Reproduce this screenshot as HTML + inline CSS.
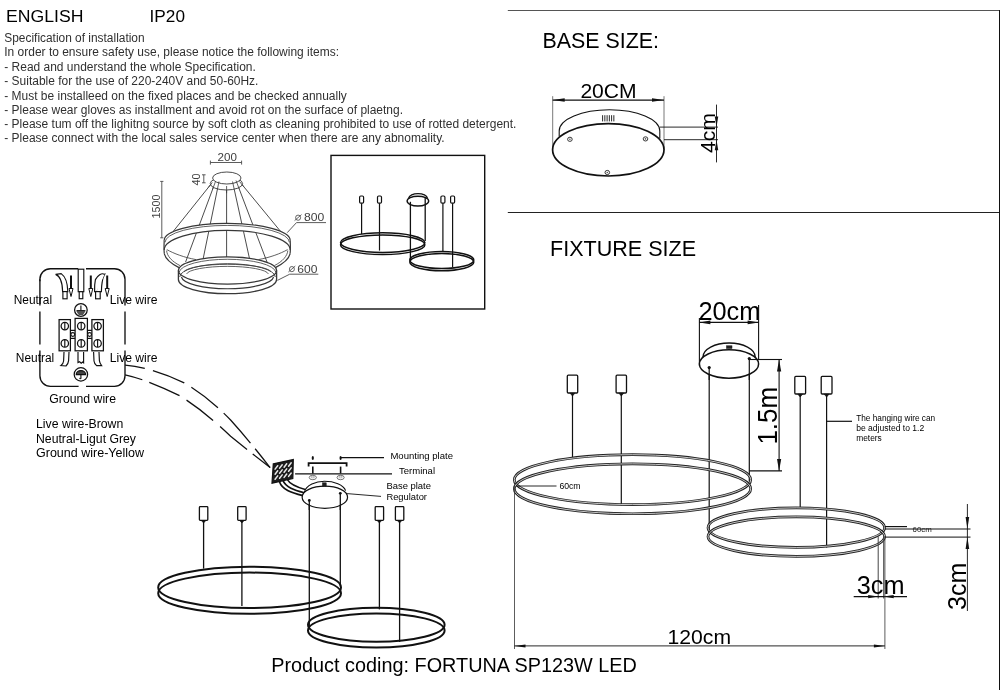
<!DOCTYPE html>
<html><head><meta charset="utf-8"><title>FORTUNA SP123W LED</title>
<style>
html,body{margin:0;padding:0;background:#fff;}
body{width:1000px;height:690px;overflow:hidden;font-family:"Liberation Sans",sans-serif;}
svg{display:block;font-family:"Liberation Sans",sans-serif;filter:grayscale(1);}
</style></head><body>
<svg width="1000" height="690" viewBox="0 0 1000 690">
<rect x="0" y="0" width="1000" height="690" fill="#fff"/>
<!-- borders -->
<line x1="507.8" y1="10.5" x2="1000" y2="10.5" stroke="#555" stroke-width="1.0" />
<line x1="507.8" y1="212.5" x2="1000" y2="212.5" stroke="#222" stroke-width="1.2" />
<line x1="999.5" y1="10" x2="999.5" y2="690" stroke="#111" stroke-width="1.0" />
<!-- header text -->
<text x="6" y="21.7" font-size="16.8" fill="#000" textLength="77.4" lengthAdjust="spacingAndGlyphs" >ENGLISH</text>
<text x="149.6" y="21.7" font-size="16.8" fill="#000" textLength="35.4" lengthAdjust="spacingAndGlyphs" >IP20</text>
<text x="4.3" y="42.099999999999994" font-size="12" fill="#303030" textLength="140.3" lengthAdjust="spacingAndGlyphs" >Specification of installation</text>
<text x="4.3" y="56.099999999999994" font-size="12" fill="#303030" textLength="334.7" lengthAdjust="spacingAndGlyphs" >In order to ensure safety use, please notice the following items:</text>
<text x="4.3" y="70.6" font-size="12" fill="#303030" textLength="251.5" lengthAdjust="spacingAndGlyphs" >- Read and understand the whole Specification.</text>
<text x="4.3" y="85.1" font-size="12" fill="#303030" textLength="254.1" lengthAdjust="spacingAndGlyphs" >- Suitable for the use of 220-240V and 50-60Hz.</text>
<text x="4.3" y="99.5" font-size="12" fill="#303030" textLength="342.5" lengthAdjust="spacingAndGlyphs" >- Must be installeed on the fixed places and be checked annually</text>
<text x="4.3" y="113.7" font-size="12" fill="#303030" textLength="398.7" lengthAdjust="spacingAndGlyphs" >- Please wear gloves as installment and avoid rot on the surface of plaetng.</text>
<text x="4.3" y="127.6" font-size="12" fill="#303030" textLength="512.1" lengthAdjust="spacingAndGlyphs" >- Please tum off the lighitng source by soft cloth as cleaning prohibited to use of rotted detergent.</text>
<text x="4.3" y="142.10000000000002" font-size="12" fill="#303030" textLength="440.3" lengthAdjust="spacingAndGlyphs" >- Please connect with the local sales service center when there are any abnomality.</text>
<text x="542.5" y="47.9" font-size="21.5" fill="#000" textLength="116.5" lengthAdjust="spacingAndGlyphs" >BASE SIZE:</text>
<text x="550" y="255.9" font-size="21.5" fill="#000" textLength="146" lengthAdjust="spacingAndGlyphs" >FIXTURE SIZE</text>
<text x="271.2" y="672.3" font-size="20" fill="#000" textLength="365.6" lengthAdjust="spacingAndGlyphs" >Product coding: FORTUNA SP123W LED</text>
<!-- pendant sketch -->
<text x="217.6" y="160.5" font-size="10.5" fill="#404040" textLength="19.4" lengthAdjust="spacingAndGlyphs" >200</text>
<line x1="210.4" y1="162.5" x2="241.6" y2="162.5" stroke="#4a4a4a" stroke-width="0.9" />
<line x1="210.4" y1="160.6" x2="210.4" y2="164.6" stroke="#4a4a4a" stroke-width="0.9" />
<line x1="241.6" y1="160.6" x2="241.6" y2="164.6" stroke="#4a4a4a" stroke-width="0.9" />
<text transform="translate(200 185.6) rotate(-90)" font-size="11" fill="#404040" textLength="12.1" lengthAdjust="spacingAndGlyphs">40</text>
<line x1="203.8" y1="174.8" x2="203.8" y2="182.8" stroke="#4a4a4a" stroke-width="0.9" />
<line x1="202" y1="174.8" x2="205.6" y2="174.8" stroke="#4a4a4a" stroke-width="0.9" />
<line x1="202" y1="182.8" x2="205.6" y2="182.8" stroke="#4a4a4a" stroke-width="0.9" />
<text transform="translate(160.2 218.4) rotate(-90)" font-size="11" fill="#404040" textLength="23.8" lengthAdjust="spacingAndGlyphs">1500</text>
<line x1="161.8" y1="181.4" x2="161.8" y2="237.8" stroke="#4a4a4a" stroke-width="0.9" />
<line x1="160.2" y1="181.4" x2="163.4" y2="181.4" stroke="#4a4a4a" stroke-width="0.9" />
<line x1="160.2" y1="237.8" x2="163.4" y2="237.8" stroke="#4a4a4a" stroke-width="0.9" />
<line x1="212.3" y1="182.5" x2="173.4" y2="231.2" stroke="#383838" stroke-width="0.9" />
<line x1="215.5" y1="181.5" x2="185.6" y2="262" stroke="#383838" stroke-width="0.9" />
<line x1="219" y1="181.5" x2="203" y2="259.5" stroke="#383838" stroke-width="0.9" />
<line x1="226.6" y1="186" x2="226.6" y2="258" stroke="#383838" stroke-width="0.9" />
<line x1="232.5" y1="181.5" x2="249.7" y2="259.5" stroke="#383838" stroke-width="0.9" />
<line x1="236" y1="180.5" x2="267" y2="262" stroke="#383838" stroke-width="0.9" />
<line x1="239.5" y1="181.5" x2="280.4" y2="231.2" stroke="#383838" stroke-width="0.9" />
<ellipse cx="226.4" cy="183.6" rx="16.2" ry="6.4" stroke="#383838" stroke-width="0.9" fill="#fff" />
<ellipse cx="226.8" cy="178" rx="14.2" ry="6" stroke="#383838" stroke-width="0.9" fill="#fff" />
<line x1="212.3" y1="182.5" x2="208.41000000000003" y2="187.37" stroke="#383838" stroke-width="0.8" />
<line x1="215.5" y1="181.5" x2="212.51" y2="189.55" stroke="#383838" stroke-width="0.8" />
<line x1="219" y1="181.5" x2="217.4" y2="189.3" stroke="#383838" stroke-width="0.8" />
<line x1="226.6" y1="186" x2="226.6" y2="193.2" stroke="#383838" stroke-width="0.8" />
<line x1="232.5" y1="181.5" x2="234.22" y2="189.3" stroke="#383838" stroke-width="0.8" />
<line x1="236" y1="180.5" x2="239.1" y2="188.65" stroke="#383838" stroke-width="0.8" />
<line x1="239.5" y1="181.5" x2="243.59" y2="186.47" stroke="#383838" stroke-width="0.8" />
<path d="M164.2,240.4 A63,17 0 0 1 290.2,240.4 L290.2,250 A63,19.6 0 0 0 164.2,250 Z" fill="#fff" stroke="none"/>
<path d="M164.2,240.4 A63,17 0 0 1 290.2,240.4" stroke="#383838" stroke-width="1.2" fill="none" />
<path d="M165,242.4 A62.2,17 0 0 1 289.4,242.4" stroke="#383838" stroke-width="0.8" fill="none" />
<path d="M164.2,250 A63,19.6 0 0 1 290.2,250" stroke="#383838" stroke-width="1.1" fill="none" />
<path d="M164.2,240.4 C164.0,245.0 163.8,250.0 164.3,253.4" stroke="#383838" stroke-width="1.2" fill="none" />
<path d="M164.3,253.4 C165.0,258.0 170.0,263.0 179.0,267.6" stroke="#383838" stroke-width="1.2" fill="none" />
<path d="M166.6,250.6 C167.0,256.0 172.0,261.6 180.0,265.6" stroke="#383838" stroke-width="0.8" fill="none" />
<path d="M166.8,249.6 C174.0,253.6 184.0,257.4 196.0,259.6" stroke="#383838" stroke-width="0.8" fill="none" />
<path d="M290.2,240.4 C290.4,245.0 290.6,250.0 290.1,253.4" stroke="#383838" stroke-width="1.2" fill="none" />
<path d="M290.1,253.4 C289.4,258.0 284.4,263.0 275.4,267.6" stroke="#383838" stroke-width="1.2" fill="none" />
<path d="M287.8,250.6 C287.4,256.0 282.4,261.6 274.4,265.6" stroke="#383838" stroke-width="0.8" fill="none" />
<path d="M287.6,249.6 C280.4,253.6 270.4,257.4 258.4,259.6" stroke="#383838" stroke-width="0.8" fill="none" />
<path d="M178.4,270.5 A49.1,13.6 0 0 1 276.6,270.5 L276.6,279.5 A49.1,14.2 0 0 1 178.4,279.5 Z" fill="#fff" stroke="none"/>
<path d="M184,271.6 A44,8.6 0 0 1 271,271.6" stroke="#383838" stroke-width="0.8" fill="none" />
<path d="M186.6,274 A41,8.2 0 0 1 268.4,274" stroke="#383838" stroke-width="0.8" fill="none" />
<path d="M178.4,270.5 L178.4,279.5 A49.1,14.2 0 0 0 276.6,279.5 L276.6,270.5" stroke="#383838" stroke-width="1.3" fill="none" />
<ellipse cx="227.5" cy="270.5" rx="49.1" ry="13.6" stroke="#383838" stroke-width="1.2" fill="none" />
<path d="M179.2,272 A48.4,13.6 0 0 1 275.8,272" stroke="#383838" stroke-width="0.8" fill="none" />
<path d="M179.7,277 A47.8,13.3 0 0 1 275.3,277" stroke="#383838" stroke-width="0.9" fill="none" />
<path d="M181.4,277 A46.2,12.6 0 0 0 273.6,277" stroke="#383838" stroke-width="1.1" fill="none" />
<ellipse cx="298.1" cy="217.7" rx="2.5" ry="2.6" stroke="#404040" stroke-width="0.8" fill="none" />
<line x1="294.6" y1="220.6" x2="301.5" y2="214.6" stroke="#404040" stroke-width="0.8" />
<text x="303.9" y="221" font-size="10.8" fill="#404040" textLength="20.3" lengthAdjust="spacingAndGlyphs" >800</text>
<line x1="296.5" y1="222.6" x2="326" y2="222.6" stroke="#4a4a4a" stroke-width="0.9" />
<line x1="296.5" y1="222.6" x2="287.2" y2="232.7" stroke="#4a4a4a" stroke-width="0.9" />
<ellipse cx="291.9" cy="269.1" rx="2.5" ry="2.6" stroke="#404040" stroke-width="0.8" fill="none" />
<line x1="288.4" y1="272.0" x2="295.29999999999995" y2="266.0" stroke="#404040" stroke-width="0.8" />
<text x="297.3" y="272.8" font-size="10.8" fill="#404040" textLength="20.1" lengthAdjust="spacingAndGlyphs" >600</text>
<line x1="289.7" y1="274.2" x2="318.3" y2="274.2" stroke="#4a4a4a" stroke-width="0.9" />
<line x1="289.7" y1="274.2" x2="277.4" y2="280.4" stroke="#4a4a4a" stroke-width="0.9" />
<!-- boxed view -->
<rect x="331" y="155.4" width="153.7" height="153.6" stroke="#111" stroke-width="1.4" fill="none" />
<line x1="410.4" y1="201.8" x2="410.4" y2="260" stroke="#111" stroke-width="1.3" />
<line x1="425.2" y1="197.6" x2="425.2" y2="241" stroke="#111" stroke-width="1.3" />
<line x1="361.6" y1="203" x2="361.6" y2="234" stroke="#111" stroke-width="1.2" />
<rect x="359.6" y="196" width="4.0" height="7.2" stroke="#111" stroke-width="1.2" fill="#fff" rx="1.2"/>
<line x1="379.5" y1="203" x2="379.5" y2="250.6" stroke="#111" stroke-width="1.2" />
<rect x="377.5" y="196" width="4.0" height="7.2" stroke="#111" stroke-width="1.2" fill="#fff" rx="1.2"/>
<line x1="442.9" y1="203" x2="442.9" y2="251.8" stroke="#111" stroke-width="1.2" />
<rect x="440.9" y="196" width="4.0" height="7.2" stroke="#111" stroke-width="1.2" fill="#fff" rx="1.2"/>
<line x1="452.6" y1="203" x2="452.6" y2="267.2" stroke="#111" stroke-width="1.2" />
<rect x="450.6" y="196" width="4.0" height="7.2" stroke="#111" stroke-width="1.2" fill="#fff" rx="1.2"/>
<path d="M408.6,198.4 A9.5,5.4 0 0 1 427.5,198.4" stroke="#111" stroke-width="1.3" fill="none" />
<ellipse cx="417.9" cy="201.1" rx="10.8" ry="4.9" stroke="#111" stroke-width="1.4" fill="none" />
<ellipse cx="382.7" cy="242.6" rx="42.2" ry="9.8" stroke="#111" stroke-width="1.5" fill="none" />
<ellipse cx="382.7" cy="244.7" rx="42.2" ry="9.8" stroke="#111" stroke-width="1.5" fill="none" />
<ellipse cx="441.8" cy="260" rx="32" ry="8.6" stroke="#111" stroke-width="1.5" fill="none" />
<ellipse cx="441.8" cy="262.1" rx="32" ry="8.6" stroke="#111" stroke-width="1.5" fill="none" />
<!-- wiring box -->
<path d="M39.9,281.2 L39.9,279.2 A10.5,10.5 0 0 1 50.4,268.7 L78.2,268.7" stroke="#111" stroke-width="1.35" fill="none" />
<path d="M86,268.7 L114.5,268.7 A10.5,10.5 0 0 1 125,279.2 L125,305.4" stroke="#111" stroke-width="1.35" fill="none" />
<path d="M39.9,279.2 L39.9,305.4" stroke="#111" stroke-width="1.35" fill="none" />
<path d="M39.9,311.5 L39.9,344.5" stroke="#111" stroke-width="1.35" fill="none" />
<path d="M125,311.5 L125,344.5" stroke="#111" stroke-width="1.35" fill="none" />
<path d="M39.9,350.6 L39.9,375.8 A10.5,10.5 0 0 0 50.4,386.3 L78.6,386.3" stroke="#111" stroke-width="1.35" fill="none" />
<path d="M125,350.6 L125,375.8 A10.5,10.5 0 0 1 114.5,386.3 L86,386.3" stroke="#111" stroke-width="1.35" fill="none" />
<text x="13.7" y="304.4" font-size="12" fill="#000" textLength="38.4" lengthAdjust="spacingAndGlyphs" >Neutral</text>
<text x="109.7" y="304.4" font-size="12" fill="#000" textLength="47.9" lengthAdjust="spacingAndGlyphs" >Live wire</text>
<text x="15.8" y="362.2" font-size="12" fill="#000" textLength="38.4" lengthAdjust="spacingAndGlyphs" >Neutral</text>
<text x="109.7" y="362.2" font-size="12" fill="#000" textLength="47.9" lengthAdjust="spacingAndGlyphs" >Live wire</text>
<text x="49.3" y="403.3" font-size="12" fill="#000" textLength="66.7" lengthAdjust="spacingAndGlyphs" >Ground wire</text>
<text x="36" y="428.3" font-size="12" fill="#000" textLength="87.3" lengthAdjust="spacingAndGlyphs" >Live wire-Brown</text>
<text x="36" y="443.3" font-size="12" fill="#000" textLength="100" lengthAdjust="spacingAndGlyphs" >Neutral-Ligut Grey</text>
<text x="36" y="457.3" font-size="12" fill="#000" textLength="108" lengthAdjust="spacingAndGlyphs" >Ground wire-Yellow</text>
<rect x="78.2" y="269.2" width="5.6" height="22.5" stroke="#111" stroke-width="1.15" fill="#fff" />
<rect x="79.2" y="291.7" width="3.6" height="7" stroke="#111" stroke-width="1.15" fill="#fff" />
<path d="M55.6,274.4 C60,276 62.4,283 62.6,291.6 L67.8,291.6 C67.6,282 64.6,276 61.2,273.6 Z" stroke="#111" stroke-width="1.15" fill="#fff" />
<rect x="62.9" y="291.6" width="4.2" height="7.2" stroke="#111" stroke-width="1.15" fill="#fff" />
<path d="M104.6,274.4 C100,276 96.6,283 96.4,291.6 L101.4,291.6 C101.6,283 102.6,277.6 104.6,274.4 Z" stroke="#111" stroke-width="1.15" fill="#fff" />
<path d="M104.6,274.4 C101.6,272.4 97.6,275.6 95.4,279.6 C94.6,283.6 94.4,287.6 94.6,291.6 L96.4,291.6" stroke="#111" stroke-width="1.15" fill="#fff" />
<rect x="95.6" y="291.6" width="4.6" height="7.2" stroke="#111" stroke-width="1.15" fill="#fff" />
<line x1="71" y1="275.5" x2="71" y2="289" stroke="#111" stroke-width="2.0" />
<path d="M69.0,288.5 L73.0,288.5 L71,296.5 Z" stroke="#111" stroke-width="1.0" fill="#fff" />
<line x1="90.8" y1="275.5" x2="90.8" y2="289" stroke="#111" stroke-width="2.0" />
<path d="M88.8,288.5 L92.8,288.5 L90.8,296.5 Z" stroke="#111" stroke-width="1.0" fill="#fff" />
<line x1="107.2" y1="275.5" x2="107.2" y2="289" stroke="#111" stroke-width="2.0" />
<path d="M105.2,288.5 L109.2,288.5 L107.2,296.5 Z" stroke="#111" stroke-width="1.0" fill="#fff" />
<ellipse cx="80.9" cy="310" rx="6.3" ry="6.3" stroke="#111" stroke-width="1.25" fill="#fff" />
<line x1="80.9" y1="305.4" x2="80.9" y2="310.6" stroke="#111" stroke-width="1.15" />
<line x1="77" y1="310.6" x2="84.8" y2="310.6" stroke="#111" stroke-width="1.15" />
<line x1="78.2" y1="312.2" x2="83.6" y2="312.2" stroke="#111" stroke-width="1.0" />
<line x1="79.4" y1="313.8" x2="82.4" y2="313.8" stroke="#111" stroke-width="1.0" />
<path d="M76.4,310.6 L85.4,310.6 L83,314.6 L78.8,314.6 Z" stroke="#111" stroke-width="0.5" fill="#555" />
<rect x="59.1" y="319.6" width="11.3" height="31.2" stroke="#111" stroke-width="1.25" fill="#fff" />
<rect x="75.1" y="318.4" width="12.3" height="32.4" stroke="#111" stroke-width="1.25" fill="#fff" />
<rect x="91.9" y="319.6" width="11.5" height="31.2" stroke="#111" stroke-width="1.25" fill="#fff" />
<line x1="70.4" y1="330.4" x2="75.1" y2="330.4" stroke="#111" stroke-width="1.25" />
<line x1="70.4" y1="338.4" x2="75.1" y2="338.4" stroke="#111" stroke-width="1.25" />
<line x1="87.4" y1="330.4" x2="91.9" y2="330.4" stroke="#111" stroke-width="1.25" />
<line x1="87.4" y1="338.4" x2="91.9" y2="338.4" stroke="#111" stroke-width="1.25" />
<ellipse cx="64.8" cy="326.1" rx="3.7" ry="3.7" stroke="#111" stroke-width="1.25" fill="#fff" />
<line x1="64.8" y1="322.40000000000003" x2="64.8" y2="329.8" stroke="#111" stroke-width="1.15" />
<ellipse cx="64.8" cy="343.4" rx="3.7" ry="3.7" stroke="#111" stroke-width="1.25" fill="#fff" />
<line x1="64.8" y1="339.7" x2="64.8" y2="347.09999999999997" stroke="#111" stroke-width="1.15" />
<ellipse cx="81.2" cy="326.1" rx="3.7" ry="3.7" stroke="#111" stroke-width="1.25" fill="#fff" />
<line x1="81.2" y1="322.40000000000003" x2="81.2" y2="329.8" stroke="#111" stroke-width="1.15" />
<ellipse cx="81.2" cy="343.4" rx="3.7" ry="3.7" stroke="#111" stroke-width="1.25" fill="#fff" />
<line x1="81.2" y1="339.7" x2="81.2" y2="347.09999999999997" stroke="#111" stroke-width="1.15" />
<ellipse cx="97.6" cy="326.1" rx="3.7" ry="3.7" stroke="#111" stroke-width="1.25" fill="#fff" />
<line x1="97.6" y1="322.40000000000003" x2="97.6" y2="329.8" stroke="#111" stroke-width="1.15" />
<ellipse cx="97.6" cy="343.4" rx="3.7" ry="3.7" stroke="#111" stroke-width="1.25" fill="#fff" />
<line x1="97.6" y1="339.7" x2="97.6" y2="347.09999999999997" stroke="#111" stroke-width="1.15" />
<ellipse cx="72.8" cy="334.5" rx="1.9" ry="1.9" stroke="#111" stroke-width="1.15" fill="#fff" />
<ellipse cx="89.6" cy="334.5" rx="1.9" ry="1.9" stroke="#111" stroke-width="1.15" fill="#fff" />
<path d="M64,352 L63.6,361 C63.4,363.6 62,364.6 60.8,365.6 L66,366 C67.4,364.6 68.4,362.6 68.6,360.6 L69,352" stroke="#111" stroke-width="1.15" fill="#fff" />
<path d="M78,352 L78,362.6 L79.6,361.8 L81.2,363.2 L82.6,362 L83.6,362.8 L83.6,352" stroke="#111" stroke-width="1.15" fill="#fff" />
<path d="M93.6,352 L94,361 C94.2,363.6 95.4,364.6 96.6,365.6 L101.6,365.6 C100.4,364 99.6,362.4 99.4,360.6 L99,352" stroke="#111" stroke-width="1.15" fill="#fff" />
<ellipse cx="80.9" cy="374.4" rx="6.7" ry="6.7" stroke="#111" stroke-width="1.25" fill="#fff" />
<path d="M76.2,374.6 A4.7,4 0 0 1 85.6,374.6 Z" stroke="#111" stroke-width="1.15" fill="#444" />
<line x1="80.9" y1="374.6" x2="80.9" y2="378.8" stroke="#111" stroke-width="1.15" />
<path d="M80.9,378.8 L79.4,378.4" stroke="#111" stroke-width="1.15" fill="none" />
<path d="M125.1,365.1 C145,367 165,373.5 184.2,382.9 C203,394 217,406 230.6,420 C245,436 258,452 270.1,467.6" stroke="#111" stroke-width="1.25" fill="none" stroke-dasharray="20 8.4 33.7 8.2 33.7 7.9 40.1 7.3 30"/>
<path d="M125.1,374.8 C140,378 160,386 179.6,395.7 C198,407 214,420.5 230.6,436.3 C245,448 258,458 270.1,467.6" stroke="#111" stroke-width="1.25" fill="none" stroke-dasharray="18.1 7.3 33 8.3 33.5 9.3 35.1 7.4 30"/>
<!-- install view -->
<path d="M279.4,481.4 C282,489.5 291,492.6 303,495.6" stroke="#111" stroke-width="1.7" fill="none" />
<path d="M283,480.6 C286,487.4 294,490 304.4,492.8" stroke="#111" stroke-width="1.7" fill="none" />
<path d="M287.4,479.6 C290,484.6 297,487.2 306,489.8" stroke="#111" stroke-width="1.5" fill="none" />
<polygon points="273.3,463.8 293.3,459.6 292.8,478.6 272,483.2" fill="#1c1c1c" stroke="#111" stroke-width="1.2"/>
<path d="M275.1,469.1 L277.7,465.7" stroke="#e8e8e8" stroke-width="1.5" stroke-linecap="round"/>
<path d="M275.1,474.2 L277.7,470.8" stroke="#e8e8e8" stroke-width="1.5" stroke-linecap="round"/>
<path d="M275.1,479.3 L277.7,475.9" stroke="#e8e8e8" stroke-width="1.5" stroke-linecap="round"/>
<path d="M279.6,468.1 L282.2,464.8" stroke="#e8e8e8" stroke-width="1.5" stroke-linecap="round"/>
<path d="M279.6,473.2 L282.2,469.9" stroke="#e8e8e8" stroke-width="1.5" stroke-linecap="round"/>
<path d="M279.6,478.3 L282.2,474.9" stroke="#e8e8e8" stroke-width="1.5" stroke-linecap="round"/>
<path d="M284.1,467.2 L286.7,463.8" stroke="#e8e8e8" stroke-width="1.5" stroke-linecap="round"/>
<path d="M284.1,472.3 L286.7,468.9" stroke="#e8e8e8" stroke-width="1.5" stroke-linecap="round"/>
<path d="M284.1,477.4 L286.7,474.0" stroke="#e8e8e8" stroke-width="1.5" stroke-linecap="round"/>
<path d="M288.6,466.2 L291.2,462.8" stroke="#e8e8e8" stroke-width="1.5" stroke-linecap="round"/>
<path d="M288.6,471.3 L291.2,467.9" stroke="#e8e8e8" stroke-width="1.5" stroke-linecap="round"/>
<path d="M288.6,476.4 L291.2,473.0" stroke="#e8e8e8" stroke-width="1.5" stroke-linecap="round"/>
<path d="M308.6,466.6 L308.6,463.1 L346.6,463.1 L346.6,466.6" stroke="#111" stroke-width="1.8" fill="none" />
<line x1="312.8" y1="466.6" x2="312.8" y2="473.4" stroke="#111" stroke-width="1.6" />
<ellipse cx="312.8" cy="458.1" rx="1.1" ry="2.0" fill="#111"/>
<ellipse cx="312.8" cy="477.5" rx="3.6" ry="2.2" stroke="#555" stroke-width="0.8" fill="#fff" />
<ellipse cx="312.8" cy="477.0" rx="1.8" ry="0.9" stroke="#888" stroke-width="0.6" fill="#fff" />
<line x1="340.6" y1="466.6" x2="340.6" y2="473.4" stroke="#111" stroke-width="1.6" />
<ellipse cx="340.6" cy="458.1" rx="1.1" ry="2.0" fill="#111"/>
<ellipse cx="340.6" cy="477.5" rx="3.6" ry="2.2" stroke="#555" stroke-width="0.8" fill="#fff" />
<ellipse cx="340.6" cy="477.0" rx="1.8" ry="0.9" stroke="#888" stroke-width="0.6" fill="#fff" />
<line x1="340.6" y1="457.6" x2="384" y2="457.6" stroke="#111" stroke-width="1.1" />
<text x="390.4" y="459" font-size="9.5" fill="#000" textLength="62.6" lengthAdjust="spacingAndGlyphs" >Mounting plate</text>
<line x1="295.1" y1="473.8" x2="392" y2="473.8" stroke="#111" stroke-width="1.2" />
<text x="399" y="474.2" font-size="9.5" fill="#000" textLength="36" lengthAdjust="spacingAndGlyphs" >Terminal</text>
<text x="386.4" y="489" font-size="9.5" fill="#000" textLength="44.6" lengthAdjust="spacingAndGlyphs" >Base plate</text>
<text x="386.4" y="499.6" font-size="9.5" fill="#000" textLength="40.6" lengthAdjust="spacingAndGlyphs" >Regulator</text>
<line x1="347.1" y1="493.6" x2="381" y2="496.4" stroke="#111" stroke-width="0.9" />
<line x1="309.3" y1="500.4" x2="309.3" y2="626" stroke="#111" stroke-width="1.3" />
<line x1="340.3" y1="493.3" x2="340.3" y2="586.6" stroke="#111" stroke-width="1.3" />
<path d="M304.4,492 C306,485 316,481.2 324.4,481.2 C334,481.2 343.6,484.6 345.6,490.6" stroke="#111" stroke-width="1.1" fill="#fff" />
<ellipse cx="324.85" cy="497.2" rx="22.7" ry="11.1" stroke="#111" stroke-width="1.2" fill="#fff" />
<rect x="322.5" y="482.8" width="3.7" height="3.4" stroke="#111" stroke-width="0.5" fill="#222" />
<circle cx="309.3" cy="500.4" r="1.4" fill="#111"/>
<circle cx="340.3" cy="493.3" r="1.4" fill="#111"/>
<line x1="309.3" y1="500.4" x2="309.3" y2="510" stroke="#111" stroke-width="1.3" />
<line x1="340.3" y1="493.3" x2="340.3" y2="510" stroke="#111" stroke-width="1.3" />
<line x1="203.6" y1="520.4" x2="203.6" y2="568.6" stroke="#111" stroke-width="1.3" />
<rect x="199.4" y="506.6" width="8.4" height="13.8" stroke="#111" stroke-width="1.3" fill="#fff" rx="0.8"/>
<path d="M201.6,520.8 L205.6,520.8 L203.6,523 Z" stroke="#111" stroke-width="0.5" fill="#111" />
<line x1="241.9" y1="520.4" x2="241.9" y2="606" stroke="#111" stroke-width="1.3" />
<rect x="237.70000000000002" y="506.6" width="8.4" height="13.8" stroke="#111" stroke-width="1.3" fill="#fff" rx="0.8"/>
<path d="M239.9,520.8 L243.9,520.8 L241.9,523 Z" stroke="#111" stroke-width="0.5" fill="#111" />
<line x1="379.4" y1="520.4" x2="379.4" y2="609.4" stroke="#111" stroke-width="1.3" />
<rect x="375.2" y="506.6" width="8.4" height="13.8" stroke="#111" stroke-width="1.3" fill="#fff" rx="0.8"/>
<path d="M377.4,520.8 L381.4,520.8 L379.4,523 Z" stroke="#111" stroke-width="0.5" fill="#111" />
<line x1="399.6" y1="520.4" x2="399.6" y2="642" stroke="#111" stroke-width="1.3" />
<rect x="395.40000000000003" y="506.6" width="8.4" height="13.8" stroke="#111" stroke-width="1.3" fill="#fff" rx="0.8"/>
<path d="M397.6,520.8 L401.6,520.8 L399.6,523 Z" stroke="#111" stroke-width="0.5" fill="#111" />
<ellipse cx="249.6" cy="587.4" rx="91.4" ry="20.6" stroke="#111" stroke-width="2.0" fill="none" />
<ellipse cx="249.6" cy="593.2" rx="91.4" ry="20.6" stroke="#111" stroke-width="2.0" fill="none" />
<ellipse cx="376.3" cy="624.8" rx="68.3" ry="17" stroke="#111" stroke-width="2.0" fill="none" />
<ellipse cx="376.3" cy="630.4" rx="68.3" ry="17" stroke="#111" stroke-width="2.0" fill="none" />
<!-- base size -->
<text x="580.4" y="97.8" font-size="19.5" fill="#000" textLength="56.3" lengthAdjust="spacingAndGlyphs" >20CM</text>
<line x1="552.7" y1="96.2" x2="552.7" y2="150" stroke="#555" stroke-width="0.8" />
<line x1="664" y1="96.2" x2="664" y2="150" stroke="#555" stroke-width="0.8" />
<line x1="552.7" y1="100.1" x2="664" y2="100.1" stroke="#111" stroke-width="1.1" />
<polygon points="552.70,100.10 564.70,98.35 564.70,101.85" fill="#111"/>
<polygon points="664.00,100.10 652.00,101.85 652.00,98.35" fill="#111"/>
<path d="M559.2,136.6 L559.2,131 A50.3,21.2 0 0 1 659.8,131 L659.8,138.6" stroke="#111" stroke-width="1.1" fill="#fff" />
<line x1="602.6" y1="115.2" x2="602.6" y2="121.4" stroke="#111" stroke-width="0.9" />
<line x1="604.85" y1="115.2" x2="604.85" y2="121.4" stroke="#111" stroke-width="0.9" />
<line x1="607.1" y1="115.2" x2="607.1" y2="121.4" stroke="#111" stroke-width="0.9" />
<line x1="609.35" y1="115.2" x2="609.35" y2="121.4" stroke="#111" stroke-width="0.9" />
<line x1="611.6" y1="115.2" x2="611.6" y2="121.4" stroke="#111" stroke-width="0.9" />
<line x1="613.85" y1="115.2" x2="613.85" y2="121.4" stroke="#111" stroke-width="0.9" />
<ellipse cx="608.3" cy="149.8" rx="55.7" ry="26.2" stroke="#111" stroke-width="1.7" fill="#fff" />
<ellipse cx="569.9" cy="139.3" rx="2.3" ry="2.1" stroke="#222" stroke-width="0.9" fill="#fff" />
<circle cx="569.9" cy="139.3" r="0.8" fill="#555"/>
<ellipse cx="645.5" cy="138.9" rx="2.3" ry="2.1" stroke="#222" stroke-width="0.9" fill="#fff" />
<circle cx="645.5" cy="138.9" r="0.8" fill="#555"/>
<ellipse cx="607.3" cy="172.5" rx="2.3" ry="2.1" stroke="#222" stroke-width="0.9" fill="#fff" />
<circle cx="607.3" cy="172.5" r="0.8" fill="#555"/>
<line x1="659.8" y1="127.1" x2="718" y2="127.1" stroke="#111" stroke-width="0.9" />
<line x1="664" y1="139.7" x2="718" y2="139.7" stroke="#111" stroke-width="0.9" />
<line x1="716.5" y1="104.6" x2="716.5" y2="162.4" stroke="#111" stroke-width="0.9" />
<polygon points="716.50,127.10 714.75,116.60 718.25,116.60" fill="#111"/>
<polygon points="716.50,139.70 718.25,150.20 714.75,150.20" fill="#111"/>
<text transform="translate(715.2 153) rotate(-90)" font-size="19.5" fill="#000" textLength="40" lengthAdjust="spacingAndGlyphs">4cm</text>
<!-- fixture size -->
<text x="698.4" y="319.9" font-size="25" fill="#000" textLength="62" lengthAdjust="spacingAndGlyphs" >20cm</text>
<line x1="699.4" y1="318" x2="699.4" y2="366" stroke="#111" stroke-width="1.1" />
<line x1="758.6" y1="305" x2="758.6" y2="360" stroke="#111" stroke-width="1.1" />
<line x1="699.4" y1="322.4" x2="758.6" y2="322.4" stroke="#111" stroke-width="1.1" />
<polygon points="699.40,322.40 710.40,320.60 710.40,324.20" fill="#111"/>
<polygon points="758.60,322.40 747.60,324.20 747.60,320.60" fill="#111"/>
<line x1="709.2" y1="368" x2="709.2" y2="534" stroke="#111" stroke-width="1.2" />
<line x1="749.3" y1="358.6" x2="749.3" y2="481.5" stroke="#111" stroke-width="1.2" />
<path d="M703,357 A26.1,14 0 0 1 755.2,357" stroke="#111" stroke-width="1.3" fill="#fff" />
<ellipse cx="729" cy="364" rx="29.6" ry="14.2" stroke="#111" stroke-width="1.5" fill="#fff" />
<rect x="726.5" y="345.8" width="5.5" height="2.7" stroke="#111" stroke-width="0.5" fill="#222" />
<circle cx="709.2" cy="367.6" r="1.6" fill="#111"/>
<circle cx="749.3" cy="358.6" r="1.6" fill="#111"/>
<line x1="709.2" y1="368" x2="709.2" y2="380" stroke="#111" stroke-width="1.2" />
<line x1="749.3" y1="358.6" x2="749.3" y2="380" stroke="#111" stroke-width="1.2" />
<line x1="750" y1="359.5" x2="782" y2="359.5" stroke="#111" stroke-width="1.1" />
<line x1="749.3" y1="470.9" x2="782" y2="470.9" stroke="#111" stroke-width="1.1" />
<line x1="779.1" y1="359.5" x2="779.1" y2="470.9" stroke="#111" stroke-width="1.1" />
<polygon points="779.10,359.50 781.20,371.50 777.00,371.50" fill="#111"/>
<polygon points="779.10,470.90 777.00,458.90 781.20,458.90" fill="#111"/>
<text transform="translate(777.4 444.6) rotate(-90)" font-size="27.5" fill="#000" textLength="57.6" lengthAdjust="spacingAndGlyphs">1.5m</text>
<line x1="572.5" y1="393" x2="572.5" y2="458.6" stroke="#111" stroke-width="1.2" />
<rect x="567.3" y="375.2" width="10.4" height="17.8" stroke="#111" stroke-width="1.3" fill="#fff" rx="1"/>
<path d="M570.1,393.2 L574.9,393.2 L572.5,396 Z" stroke="#111" stroke-width="0.6" fill="#111" />
<line x1="621.3" y1="393" x2="621.3" y2="505.2" stroke="#111" stroke-width="1.2" />
<rect x="616.0999999999999" y="375.2" width="10.4" height="17.8" stroke="#111" stroke-width="1.3" fill="#fff" rx="1"/>
<path d="M618.9,393.2 L623.6999999999999,393.2 L621.3,396 Z" stroke="#111" stroke-width="0.6" fill="#111" />
<line x1="800.2" y1="394" x2="800.2" y2="508.6" stroke="#111" stroke-width="1.2" />
<rect x="794.8000000000001" y="376.4" width="10.8" height="17.6" stroke="#111" stroke-width="1.3" fill="#fff" rx="1"/>
<path d="M797.8000000000001,394.2 L802.6,394.2 L800.2,397 Z" stroke="#111" stroke-width="0.6" fill="#111" />
<line x1="826.6" y1="394" x2="826.6" y2="547.6" stroke="#111" stroke-width="1.2" />
<rect x="821.2" y="376.4" width="10.8" height="17.6" stroke="#111" stroke-width="1.3" fill="#fff" rx="1"/>
<path d="M824.2,394.2 L829.0,394.2 L826.6,397 Z" stroke="#111" stroke-width="0.6" fill="#111" />
<line x1="826.6" y1="421.3" x2="852" y2="421.3" stroke="#111" stroke-width="1.2" />
<text x="856.2" y="421" font-size="8.3" fill="#000" textLength="79" lengthAdjust="spacingAndGlyphs" >The hanging wire can</text>
<text x="856.2" y="431" font-size="8.3" fill="#000" textLength="68" lengthAdjust="spacingAndGlyphs" >be adjusted to 1.2</text>
<text x="856.2" y="441" font-size="8.3" fill="#000" textLength="25.6" lengthAdjust="spacingAndGlyphs" >meters</text>
<ellipse cx="632.5" cy="479.65" rx="118.2" ry="24.95" stroke="#222" stroke-width="2.7" fill="none" />
<ellipse cx="632.5" cy="479.65" rx="118.2" ry="24.95" stroke="#fff" stroke-width="0.75" fill="none" />
<ellipse cx="632.5" cy="488.79999999999995" rx="118.2" ry="24.95" stroke="#222" stroke-width="2.7" fill="none" />
<ellipse cx="632.5" cy="488.79999999999995" rx="118.2" ry="24.95" stroke="#fff" stroke-width="0.75" fill="none" />
<ellipse cx="796.3" cy="527.65" rx="88.3" ry="19.8" stroke="#222" stroke-width="2.7" fill="none" />
<ellipse cx="796.3" cy="527.65" rx="88.3" ry="19.8" stroke="#fff" stroke-width="0.75" fill="none" />
<ellipse cx="796.3" cy="536.6" rx="88.3" ry="19.8" stroke="#222" stroke-width="2.7" fill="none" />
<ellipse cx="796.3" cy="536.6" rx="88.3" ry="19.8" stroke="#fff" stroke-width="0.75" fill="none" />
<line x1="516" y1="486" x2="556.5" y2="486" stroke="#111" stroke-width="0.9" />
<text x="559.4" y="488.6" font-size="8.7" fill="#000" textLength="21.2" lengthAdjust="spacingAndGlyphs" >60cm</text>
<line x1="884.7" y1="526.6" x2="907" y2="526.6" stroke="#111" stroke-width="1.2" />
<line x1="884.7" y1="529" x2="970.5" y2="529" stroke="#111" stroke-width="1.0" />
<line x1="884.7" y1="537.1" x2="970.5" y2="537.1" stroke="#111" stroke-width="1.0" />
<text x="912.6" y="531.6" font-size="8" fill="#222" textLength="19.2" lengthAdjust="spacingAndGlyphs" >60cm</text>
<line x1="967.4" y1="504" x2="967.4" y2="611" stroke="#111" stroke-width="0.9" />
<polygon points="967.40,529.00 965.60,517.00 969.20,517.00" fill="#111"/>
<polygon points="967.40,537.10 969.20,549.10 965.60,549.10" fill="#111"/>
<text transform="translate(965.6 610) rotate(-90)" font-size="25.3" fill="#000" textLength="47.3" lengthAdjust="spacingAndGlyphs">3cm</text>
<line x1="878.2" y1="536.5" x2="878.2" y2="598.5" stroke="#444" stroke-width="1.0" />
<line x1="883.7" y1="536.5" x2="883.7" y2="598.5" stroke="#444" stroke-width="1.0" />
<text x="856.8" y="594.4" font-size="25.3" fill="#000" textLength="47.7" lengthAdjust="spacingAndGlyphs" >3cm</text>
<line x1="853.7" y1="596.6" x2="907" y2="596.6" stroke="#111" stroke-width="1.1" />
<polygon points="878.20,596.60 868.20,598.30 868.20,594.90" fill="#111"/>
<polygon points="883.70,596.60 893.70,594.90 893.70,598.30" fill="#111"/>
<line x1="514.5" y1="484.6" x2="514.5" y2="649" stroke="#333" stroke-width="0.8" />
<line x1="884.9" y1="536.5" x2="884.9" y2="649" stroke="#333" stroke-width="0.8" />
<line x1="514.5" y1="645.9" x2="884.9" y2="645.9" stroke="#111" stroke-width="0.9" />
<polygon points="514.50,645.90 525.50,644.40 525.50,647.40" fill="#111"/>
<polygon points="884.90,645.90 873.90,647.40 873.90,644.40" fill="#111"/>
<text x="667.5" y="644" font-size="21" fill="#000" textLength="63.5" lengthAdjust="spacingAndGlyphs" >120cm</text>
</svg>
</body></html>
